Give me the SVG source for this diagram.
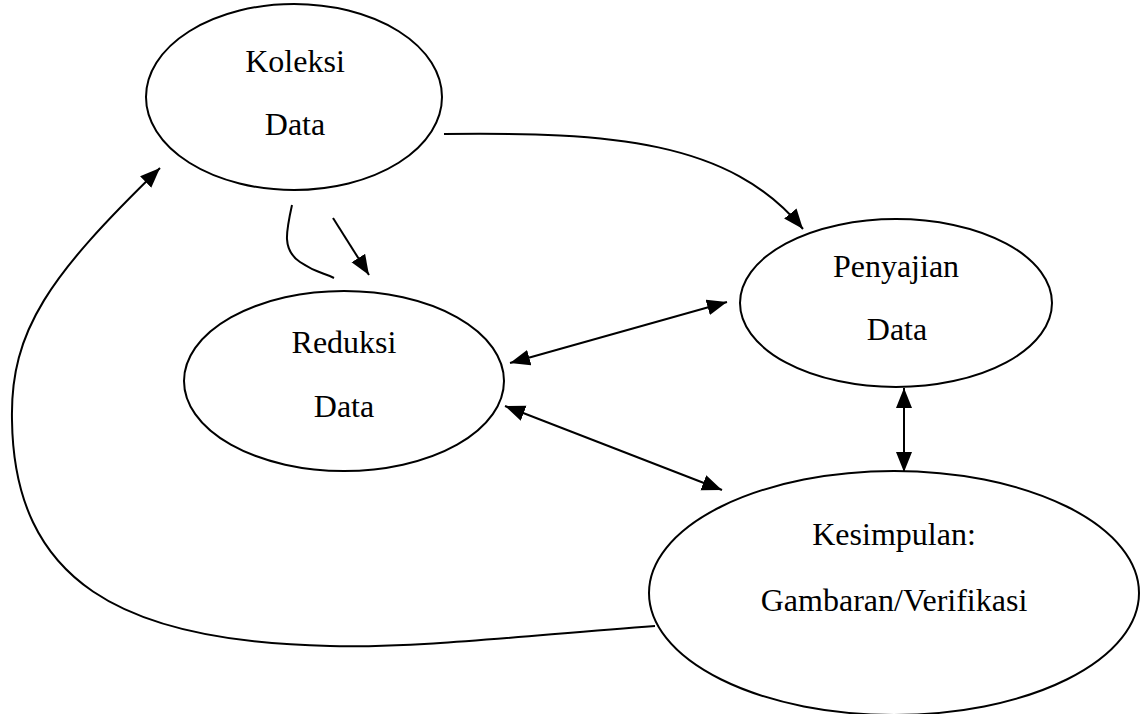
<svg xmlns="http://www.w3.org/2000/svg" width="1143" height="714" viewBox="0 0 1143 714">
<style>
.node ellipse{fill:#fff;stroke:#000;stroke-width:2}
.node text{font-family:"Liberation Serif","Times New Roman",serif;font-size:32px;fill:#000;text-anchor:middle}
.conn path{fill:none;stroke:#000;stroke-width:2}
</style>
<defs>
<marker id="ah" markerUnits="userSpaceOnUse" markerWidth="22" markerHeight="18" refX="20" refY="8" orient="auto-start-reverse" viewBox="0 0 22 18">
<path d="M0,0 L20,8 L0,16 z" fill="#000"/>
</marker>
</defs>
<rect width="1143" height="714" fill="#fff"/>
<g id="koleksi" class="node">
<ellipse cx="294" cy="97" rx="148" ry="93"/>
<text x="295" y="72">Koleksi</text>
<text x="295" y="135">Data</text>
</g>
<g id="reduksi" class="node">
<ellipse cx="344" cy="381" rx="160" ry="90"/>
<text x="344" y="353">Reduksi</text>
<text x="344" y="417">Data</text>
</g>
<g id="penyajian" class="node">
<ellipse cx="896" cy="303" rx="156" ry="84"/>
<text x="896" y="277">Penyajian</text>
<text x="897" y="340">Data</text>
</g>
<g id="kesimpulan" class="node">
<ellipse cx="894" cy="593" rx="245" ry="122"/>
<text x="894" y="545">Kesimpulan:</text>
<text x="894" y="611">Gambaran/Verifikasi</text>
</g>
<g id="connectors" class="conn">
<path d="M444,134 C610,132 730,140 803,229" marker-end="url(#ah)"/>
<path d="M333,218 L369,275" marker-end="url(#ah)"/>
<path d="M292,205 C286,232 282,250 300,262 S322,272 334,278"/>
<path d="M510,363 L727,302" marker-start="url(#ah)" marker-end="url(#ah)"/>
<path d="M505,406 L722,490" marker-start="url(#ah)" marker-end="url(#ah)"/>
<path d="M904,388 L904,472" marker-start="url(#ah)" marker-end="url(#ah)"/>
<path d="M655,626 C520,636 420,648 330,646 C120,642 14,580 12,420 C10,330 50,275 160,168" marker-end="url(#ah)"/>
</g>
</svg>
